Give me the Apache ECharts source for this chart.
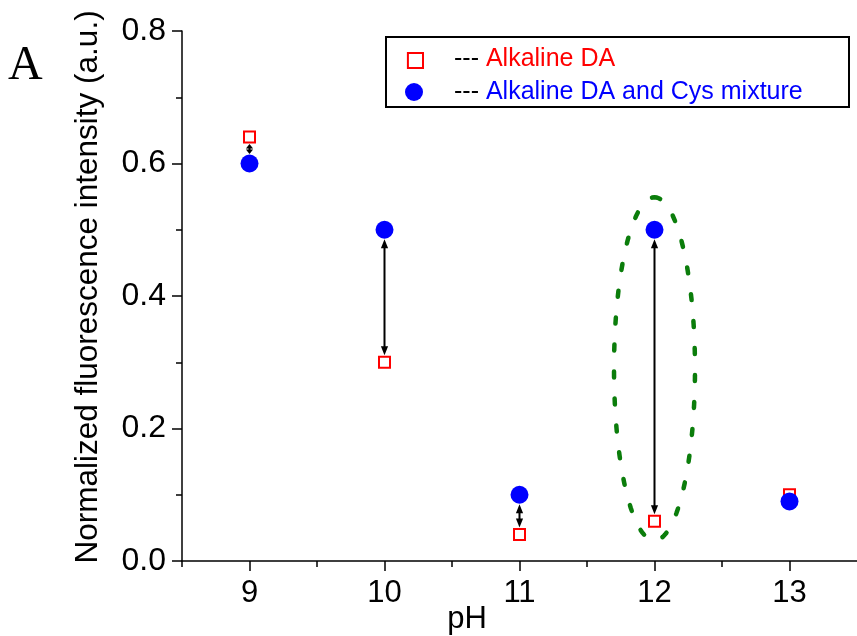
<!DOCTYPE html>
<html>
<head>
<meta charset="utf-8">
<script src="https://cdn.jsdelivr.net/npm/echarts@6/dist/echarts.min.js"></script>
<style>
  html, body { margin: 0; padding: 0; background: #fff; }
  #chart { width: 857px; height: 636px; }
</style>
</head>
<body>
<div id="chart"></div>
<script>
var phValues = [9, 10, 11, 12, 13];
var daValues = [0.64, 0.30, 0.04, 0.06, 0.10];
var mixValues = [0.60, 0.50, 0.10, 0.50, 0.09];
var arrowPh = [9, 10, 11, 12];
var xTickValues = [9, 10, 11, 12, 13];
var xMinorValues = [8.5, 9.5, 10.5, 11.5, 12.5];
// dotted ellipse round pH 12: centre and half axes, in data units
var ellipseCenter = [12, 0.29];
var ellipseRadius = [0.30, 0.259];

var daName = 'Alkaline DA';
var mixName = 'Alkaline DA and Cys mixture';
var font = 'Liberation Sans, Arial, sans-serif';

var daData = phValues.map(function (p, i) { return [p, daValues[i]]; });
var mixData = phValues.map(function (p, i) { return [p, mixValues[i]]; });
var arrowData = arrowPh.map(function (p) {
  var i = phValues.indexOf(p);
  return [p, daValues[i], mixValues[i]];
});

function renderArrow (params, api) {
  var x = api.value(0);
  var pSq = api.coord([x, api.value(1)]);
  var pCi = api.coord([x, api.value(2)]);
  var x0 = pSq[0];
  var dir = pCi[1] > pSq[1] ? 1 : -1;
  var y1 = pSq[1] + dir * 7;
  var y2 = pCi[1] - dir * 9.5;
  var len = Math.abs(y2 - y1);
  var h = Math.min(9, len * 0.45);
  var w = 3.6;
  return {
    type: 'group',
    children: [
      {
        type: 'line',
        shape: { x1: x0, y1: y1 + dir * h * 0.7, x2: x0, y2: y2 - dir * h * 0.7 },
        style: { stroke: '#000', lineWidth: 2 }
      },
      {
        type: 'polygon',
        shape: { points: [[x0, y1], [x0 - w, y1 + dir * h], [x0 + w, y1 + dir * h]] },
        style: { fill: '#000' }
      },
      {
        type: 'polygon',
        shape: { points: [[x0, y2], [x0 - w, y2 - dir * h], [x0 + w, y2 - dir * h]] },
        style: { fill: '#000' }
      }
    ]
  };
}

function renderEllipse (params, api) {
  var c = api.coord([api.value(0), api.value(1)]);
  var s = api.size([api.value(2), api.value(3)]);
  var pts = [];
  for (var i = 0; i <= 120; i++) {
    var t = i / 120 * 2 * Math.PI;
    pts.push([c[0] + s[0] * Math.sin(t), c[1] - s[1] * Math.cos(t)]);
  }
  return {
    type: 'polyline',
    shape: { points: pts },
    style: { stroke: '#0b7d0b', lineWidth: 4.5, lineDash: [6, 21], lineCap: 'round', fill: null }
  };
}

var chart = echarts.init(document.getElementById('chart'));
var option = {
  animation: false,
  backgroundColor: '#fff',
  grid: { left: 182, right: 0, top: 31, bottom: 75, outerBoundsMode: 'none', containLabel: false },
  graphic: [
    {
      type: 'text', left: 8, top: 42,
      style: { text: 'A', font: '48px "Liberation Serif", "Times New Roman", serif', fill: '#000' }
    },
    {
      type: 'rect', z: 1,
      shape: { x: 386, y: 37, width: 463, height: 70 },
      style: { stroke: '#000', lineWidth: 2, fill: null }
    }
  ],
  legend: {
    left: 404,
    top: 44,
    padding: 0,
    orient: 'vertical',
    itemGap: 3,
    itemWidth: 18,
    itemHeight: 18,
    selectedMode: false,
    data: [
      { name: daName, icon: 'path://M0,0M2.5,2.5H15.5V15.5H2.5Z' },
      { name: mixName, icon: 'circle' }
    ],
    formatter: function (name) {
      return name === daName ? '{d|---} {r|' + name + '}' : '{d|---} {b|' + name + '}';
    },
    textStyle: {
      fontSize: 25,
      fontFamily: font,
      lineHeight: 30,
      rich: {
        d: { color: '#000', fontSize: 25, fontFamily: font, padding: [0, 0, 0, 26] },
        r: { color: '#ff0000', fontSize: 25, fontFamily: font },
        b: { color: '#0000ff', fontSize: 25, fontFamily: font }
      }
    }
  },
  xAxis: [
    {
      type: 'value',
      min: 8.5,
      max: 13.5,
      interval: 0.5,
      name: 'pH',
      nameLocation: 'middle',
      nameGap: 43,
      nameMoveOverlap: false,
      nameTextStyle: { color: '#000', fontSize: 31, fontFamily: font, padding: [0, 105, 0, 0] },
      axisLine: { show: true, lineStyle: { color: '#000', width: 1.5 } },
      axisTick: { show: true, customValues: xTickValues, length: 10, lineStyle: { color: '#000', width: 1.5 } },
      axisLabel: { customValues: xTickValues, color: '#000', fontSize: 31, fontFamily: font, margin: 17 },
      splitLine: { show: false }
    },
    {
      type: 'value',
      min: 8.5,
      max: 13.5,
      interval: 0.5,
      position: 'bottom',
      axisLine: { show: false },
      axisTick: { show: true, customValues: xMinorValues, length: 6, lineStyle: { color: '#000', width: 1.5 } },
      axisLabel: { show: false },
      splitLine: { show: false }
    }
  ],
  yAxis: {
    type: 'value',
    min: 0,
    max: 0.8,
    interval: 0.2,
    name: 'Normalized fluorescence intensity (a.u.)',
    nameLocation: 'middle',
    nameGap: 78,
    nameMoveOverlap: false,
    nameTextStyle: { color: '#000', fontSize: 31.5, fontFamily: font, padding: [0, 0, 0, 18] },
    axisLine: { show: true, lineStyle: { color: '#000', width: 1.5 } },
    axisTick: { show: true, length: 10, lineStyle: { color: '#000', width: 1.5 } },
    minorTick: { show: true, splitNumber: 2, length: 6, lineStyle: { color: '#000', width: 1.5 } },
    axisLabel: {
      color: '#000', fontSize: 32, fontFamily: font, margin: 16,
      formatter: function (v) { return v.toFixed(1); }
    },
    splitLine: { show: false }
  },
  series: [
    {
      name: 'ellipse',
      type: 'custom',
      renderItem: renderEllipse,
      data: [[ellipseCenter[0], ellipseCenter[1], ellipseRadius[0], ellipseRadius[1]]],
      clip: false,
      z: 1
    },
    {
      name: 'arrows',
      type: 'custom',
      renderItem: renderArrow,
      data: arrowData,
      z: 2
    },
    {
      name: daName,
      type: 'scatter',
      symbol: 'rect',
      symbolSize: 11,
      itemStyle: { color: '#fff', borderColor: '#ff0000', borderWidth: 2, opacity: 1 },
      data: daData,
      z: 3
    },
    {
      name: mixName,
      type: 'scatter',
      symbol: 'circle',
      symbolSize: 18,
      itemStyle: { color: '#0000ff', opacity: 1 },
      data: mixData,
      z: 4
    }
  ]
};
chart.setOption(option, true);
</script>
</body>
</html>
